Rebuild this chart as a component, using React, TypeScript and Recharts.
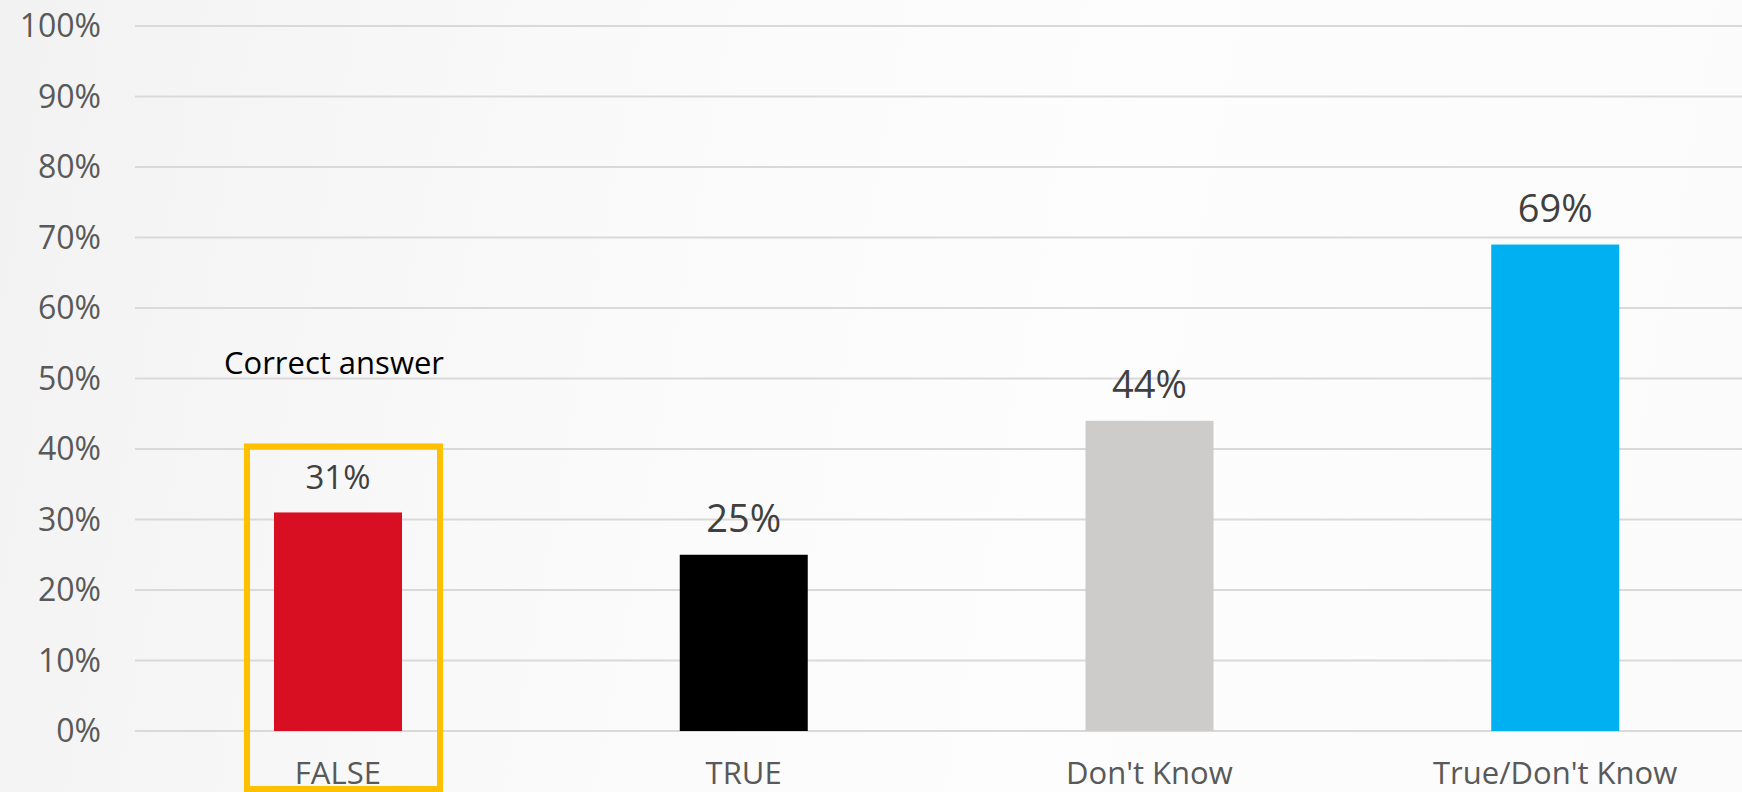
import { BarChart, Bar, XAxis, YAxis, CartesianGrid, LabelList, Cell } from "recharts";

const categories = ["FALSE", "TRUE", "Don't Know", "True/Don't Know"];
const shares = [31, 25, 44, 69];
const yTicks = [0, 10, 20, 30, 40, 50, 60, 70, 80, 90, 100];
const correctAnswer = "FALSE";

const barColors = ["#D80F22", "#000000", "#CDCCCA", "#00B0F0"];
const labelSizes = [33, 38, 38, 38];

const data = categories.map((name, i) => ({ name, value: shares[i] }));

const FONT = "'Open Sans', Lato, sans-serif";

// draws the bar, plus the yellow frame and caption around the correct answer
function FramedBar(props: any) {
  const { x, y, width, height, fill, payload } = props;
  const bar = <rect x={x} y={y} width={width} height={height} fill={fill} />;
  if (payload.name !== correctAnswer) return bar;
  const cx = x + width / 2;
  return (
    <g>
      {bar}
      <rect
        x={x - 27}
        y={y - 66}
        width={width + 65}
        height={height + 66 + 58}
        fill="none"
        stroke="#FFC000"
        strokeWidth={6}
      />
      <text
        x={cx - 4}
        y={y - 150}
        textAnchor="middle"
        dominantBaseline="central"
        fontFamily={FONT}
        fontSize={31}
        fill="#000000"
      >
        Correct answer
      </text>
    </g>
  );
}

function ValueLabel(props: any) {
  const { x, y, width, value, index } = props;
  return (
    <text
      x={x + width / 2}
      y={y - 23}
      textAnchor="middle"
      fontFamily={FONT}
      fontSize={labelSizes[index]}
      fill="#404040"
    >
      {`${value}%`}
    </text>
  );
}

export default function App() {
  return (
    <div
      style={{
        position: "fixed",
        left: 0,
        top: 0,
        width: 1742,
        height: 792,
        overflow: "hidden",
        background: "linear-gradient(100deg, #f2f2f2 0%, #f9f9f9 30%, #fdfdfd 60%, #fbfbfb 100%)",
      }}
    >
      <BarChart
        width={1758}
        height={792}
        data={data}
        margin={{ top: 26, right: 0, bottom: 0, left: 0 }}
        barSize={128}
      >
        <CartesianGrid vertical={false} stroke="#d9d9d9" strokeWidth={2} />
        <XAxis
          dataKey="name"
          height={61}
          axisLine={false}
          tickLine={false}
          tickSize={0}
          tickMargin={31}
          interval={0}
          tick={{ fontFamily: FONT, fontSize: 31, fill: "#595959" }}
        />
        <YAxis
          width={135}
          domain={[0, 100]}
          ticks={yTicks}
          axisLine={false}
          tickLine={false}
          tickSize={0}
          tickMargin={34}
          tickFormatter={(v) => `${v}%`}
          tick={{ fontFamily: FONT, fontSize: 32, fill: "#595959" }}
        />
        <Bar dataKey="value" isAnimationActive={false} shape={<FramedBar />}>
          {data.map((d, i) => (
            <Cell key={d.name} fill={barColors[i]} />
          ))}
          <LabelList dataKey="value" content={<ValueLabel />} />
        </Bar>
      </BarChart>
    </div>
  );
}
